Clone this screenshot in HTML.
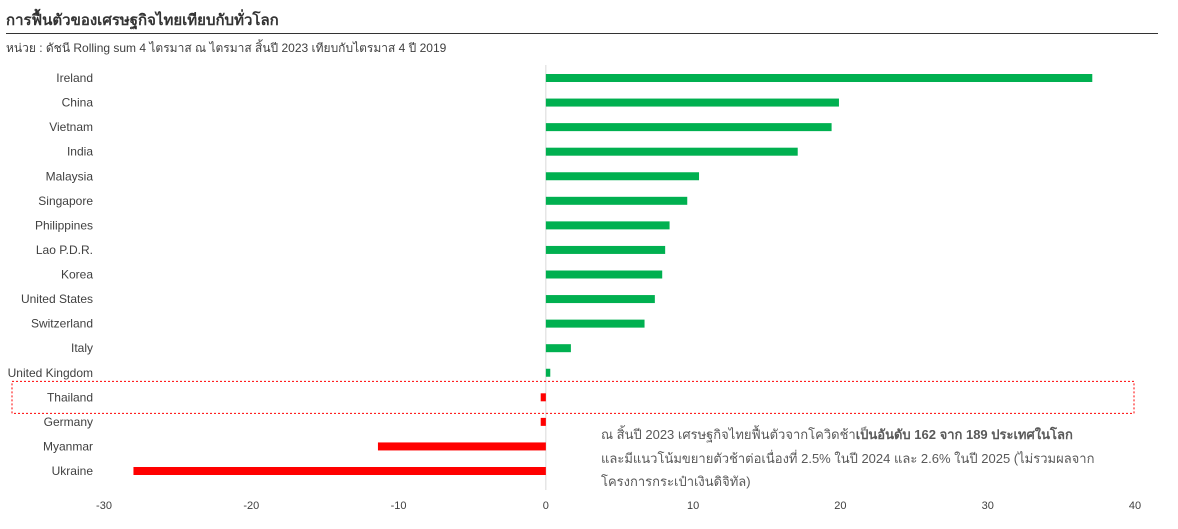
<!DOCTYPE html>
<html><head><meta charset="utf-8">
<style>
body{margin:0;background:#fff;font-family:"Liberation Sans","Noto Sans CJK SC",sans-serif;}
#wrap{position:relative;width:1178px;height:529px;overflow:hidden;}
.t{position:absolute;white-space:nowrap;color:#404040;}
</style></head><body>
<div id="wrap">
<div class="t" style="left:6px;top:8px;font-size:15px;font-weight:bold;color:#333;">การฟื้นตัวของเศรษฐกิจไทยเทียบกับทั่วโลก</div>
<div style="position:absolute;left:6px;top:33px;width:1152px;height:1px;background:#333;"></div>
<div class="t" style="left:6px;top:39px;font-size:12px;">หน่วย : ดัชนี Rolling sum 4 ไตรมาส ณ ไตรมาส สิ้นปี 2023 เทียบกับไตรมาส 4 ปี 2019</div>
<svg id="chart" width="1178" height="529" style="position:absolute;left:0;top:0;"></svg>
<div class="t" style="left:601px;top:423px;font-size:13px;line-height:23.5px;color:#595959;">ณ สิ้นปี 2023 เศรษฐกิจไทยฟื้นตัวจากโควิดช้า<b>เป็นอันดับ 162 จาก 189 ประเทศในโลก</b><br>และมีแนวโน้มขยายตัวช้าต่อเนื่องที่ 2.5% ในปี 2024 และ 2.6% ในปี 2025 (ไม่รวมผลจาก<br>โครงการกระเป๋าเงินดิจิทัล)</div>
</div>
<script>
const categories=["Ireland","China","Vietnam","India","Malaysia","Singapore","Philippines","Lao P.D.R.","Korea","United States","Switzerland","Italy","United Kingdom","Thailand","Germany","Myanmar","Ukraine"];
const values=[37.1,19.9,19.4,17.1,10.4,9.6,8.4,8.1,7.9,7.4,6.7,1.7,0.3,-0.35,-0.35,-11.4,-28.0];
const tickLabels=[-30,-20,-10,0,10,20,30,40];
const NS="http://www.w3.org/2000/svg";
const svg=document.getElementById('chart');
const xMin=-30,xMax=40,x0=104,x1=1135;
const x=v=>x0+(v-xMin)/(xMax-xMin)*(x1-x0);
const rowTop=78,rowStep=(471-78)/(categories.length-1);
const y=i=>rowTop+i*rowStep;
function mk(tag,attrs){const e=document.createElementNS(NS,tag);for(const k in attrs)e.setAttribute(k,attrs[k]);svg.appendChild(e);return e;}
let zl=mk('line',{x1:x(0),x2:x(0),y1:65,y2:490,stroke:'#d9d9d9','stroke-width':1});


categories.forEach((c,i)=>{
  const v=values[i];
  const r=mk('rect',{x:Math.min(x(0),x(v)),y:y(i)-4,width:Math.abs(x(v)-x(0)),height:8,fill:v>=0?'#00b050':'#ff0000'});
  
  
  const t=mk('text',{x:93,y:y(i)+4,'text-anchor':'end','font-size':12,fill:'#404040','font-family':'Liberation Sans, sans-serif'});
  t.textContent=c;
  
  
});
tickLabels.forEach(v=>{
  const t=mk('text',{x:x(v),y:509,'text-anchor':'middle','font-size':11,fill:'#404040','font-family':'Liberation Sans, sans-serif'});
  t.textContent=v;
  
  
});
const ti=categories.indexOf("Thailand");
const hb=mk('rect',{x:12,y:y(ti)-16,width:1122,height:32,fill:'none',stroke:'#ff0000','stroke-width':1,'stroke-dasharray':'2,2'});


</script>
</body></html>
